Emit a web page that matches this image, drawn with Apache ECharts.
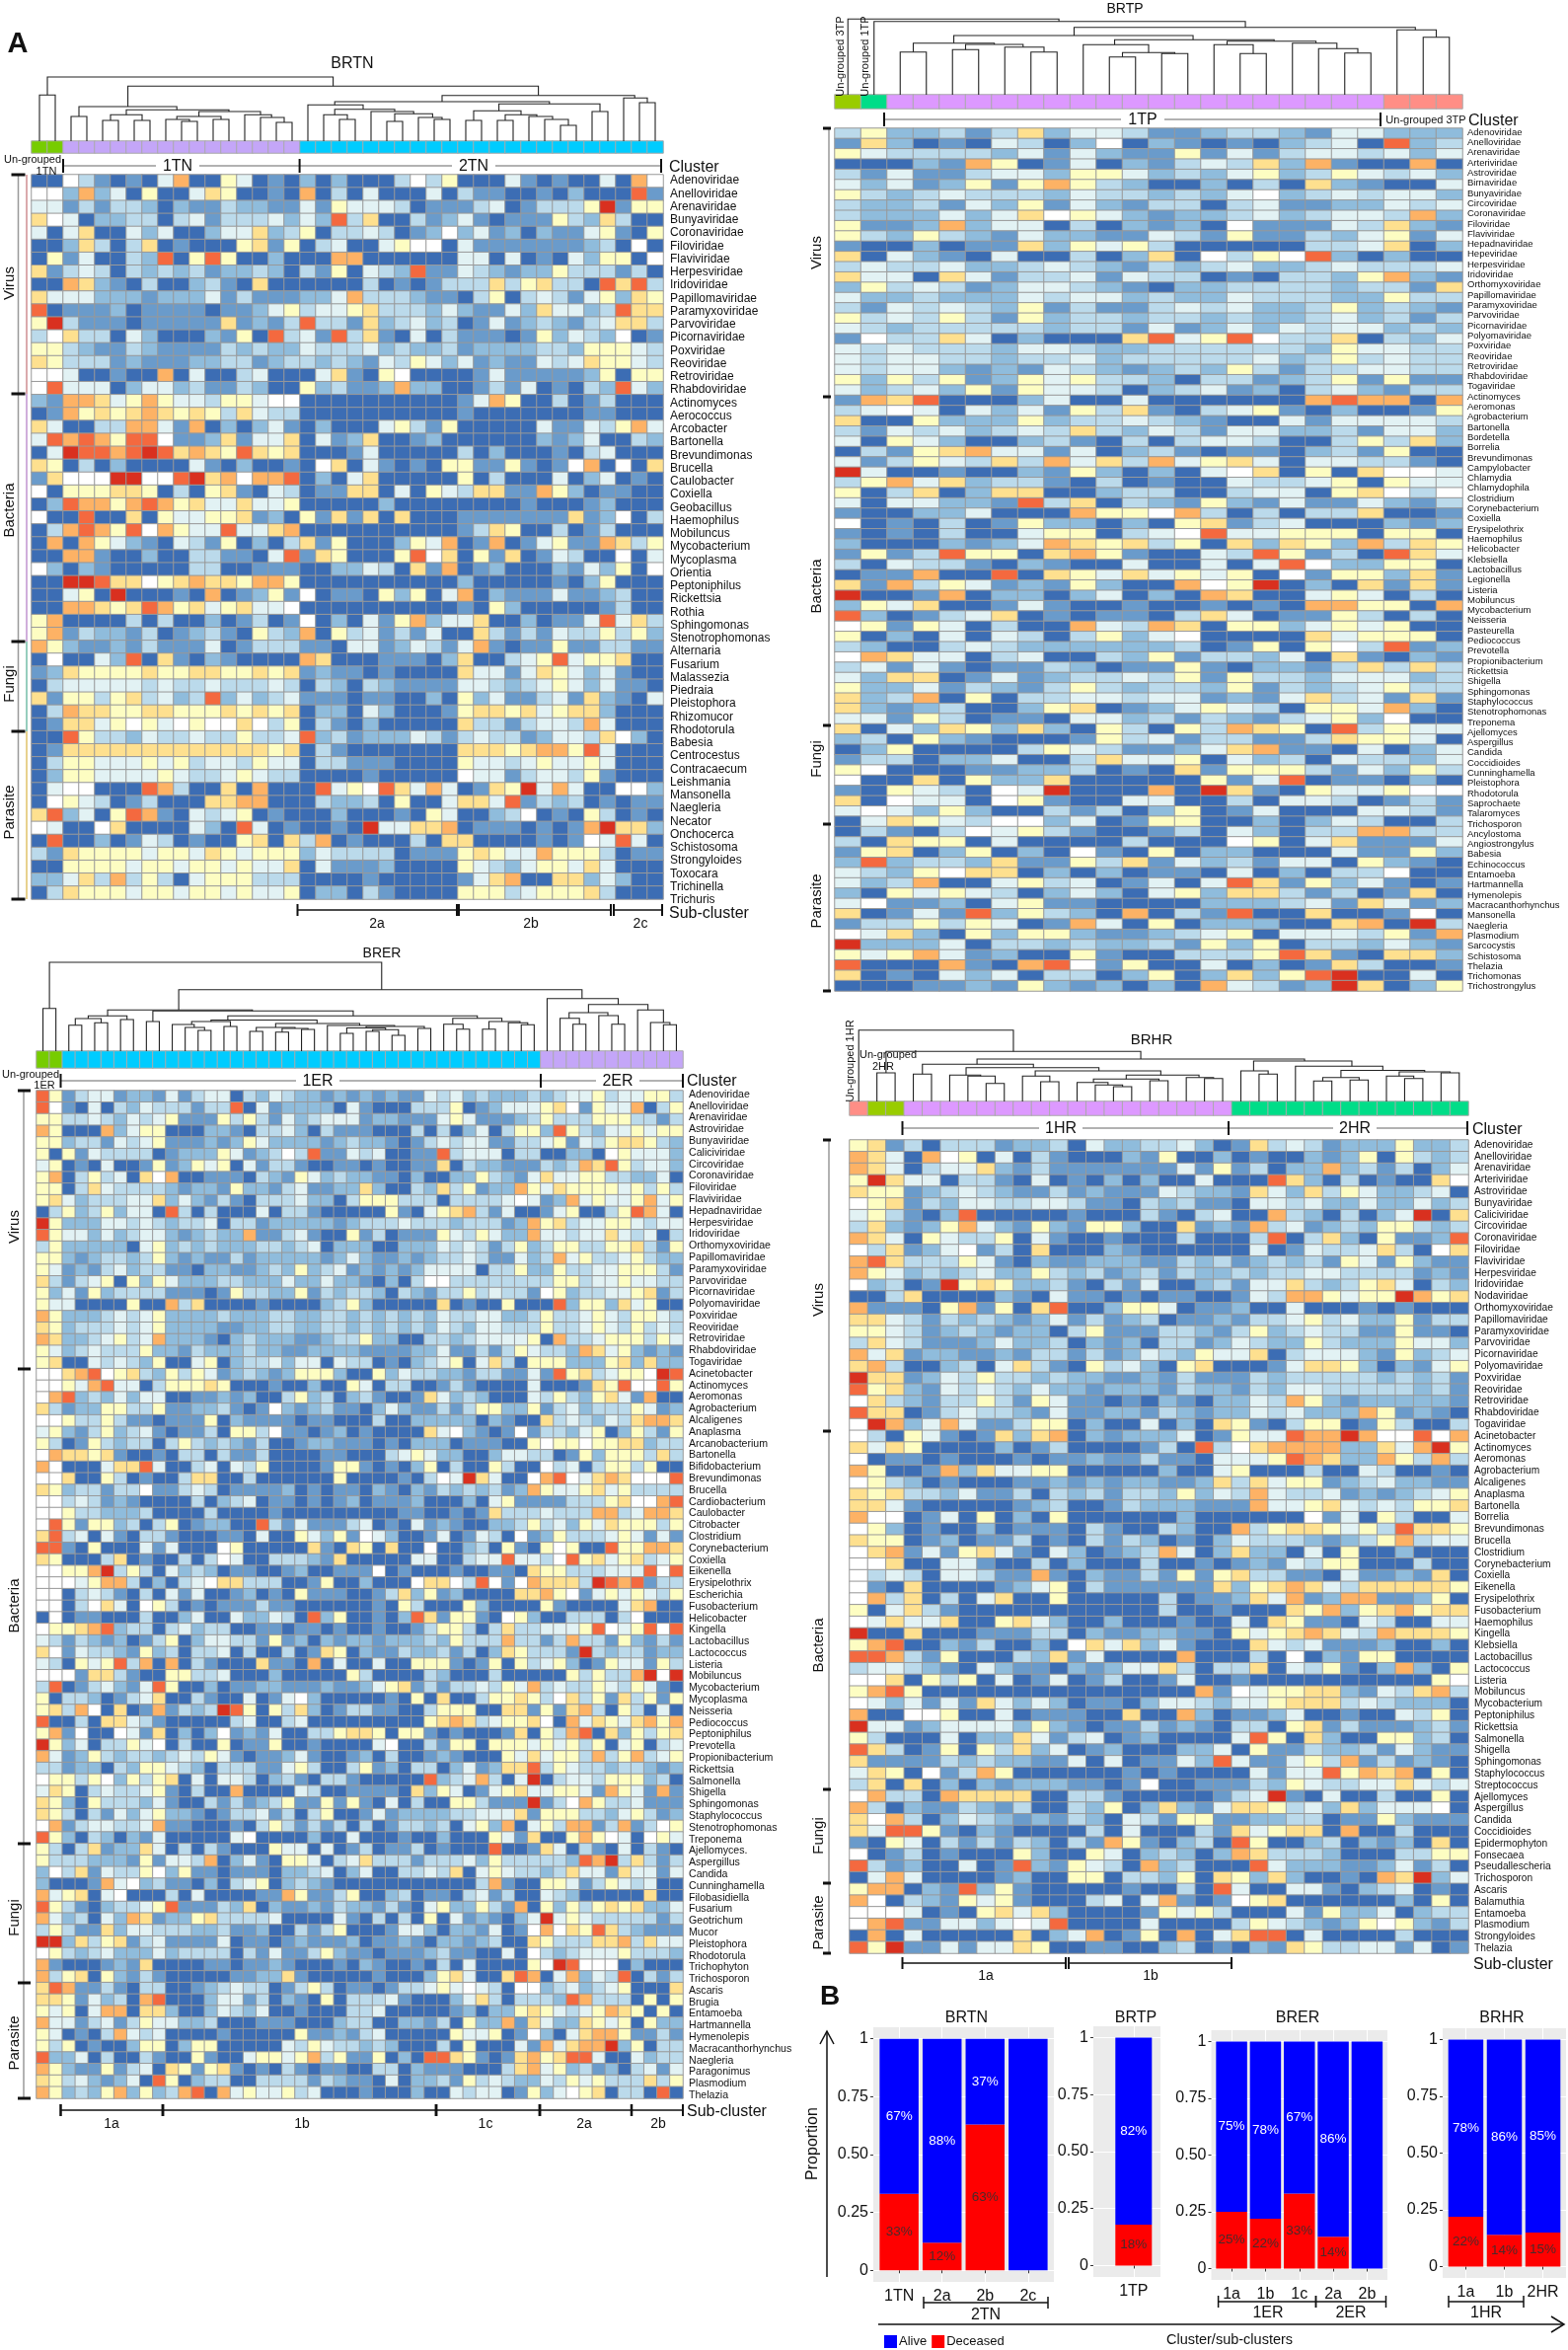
<!DOCTYPE html>
<html>
<head>
<meta charset="utf-8">
<script src="https://cdn.jsdelivr.net/npm/echarts@6/dist/echarts.min.js"></script>
<style>html,body{margin:0;padding:0;background:#fff}#main{width:1589px;height:2381px}</style>
</head>
<body>
<div id="main"></div>
<script>
// heat levels: one hex digit per cell, 0 = dark blue ... 5 = white ... a = red. spaces only help counting
var brtnLabels = ['Adenoviridae','Anelloviridae','Arenaviridae','Bunyaviridae','Coronaviridae','Filoviridae','Flaviviridae','Herpesviridae','Iridoviridae','Papillomaviridae','Paramyxoviridae','Parvoviridae','Picornaviridae','Poxviridae','Reoviridae','Retroviridae','Rhabdoviridae','Actinomyces','Aerococcus','Arcobacter','Bartonella','Brevundimonas','Brucella','Caulobacter','Coxiella','Geobacillus','Haemophilus','Mobiluncus','Mycobacterium','Mycoplasma','Orientia','Peptoniphilus','Rickettsia','Rothia','Sphingomonas','Stenotrophomonas','Alternaria','Fusarium','Malassezia','Piedraia','Pleistophora','Rhizomucor','Rhodotorula','Babesia','Centrocestus','Contracaecum','Leishmania','Mansonella','Naegleria','Necator','Onchocerca','Schistosoma','Strongyloides','Toxocara','Trichinella','Trichuris'];
var brtnRows = [
'00 531010480064010 20200035360004101004085',
'55 282406004760010 80304000403110010200091',
'44 131332021132211 41644430111340133 36a166',
'75 402233034133342 42937003124101116327300',
'40 470042400244723 60334301252412021146106',
'00 273037010006716 03400465504111111123050',
'06 140032906960020 0088000000 4404010426605',
'71 343032323122320 31604329114321226333130',
'00 872103002310700 00003010133373673309793',
'74 442221222413111 22483332110360343146276',
'90 111201111011246 34467333242114274423977',
'6a 311101111171213 93317234230141232134773',
'35 733042000216093 41937104031110162432501',
'66 321132111132322 43334232231222233266643',
'76 333121112233123 32321436424121143476643',
'55 400100804003400 04710650000141111126066',
'59 444024423113200 62311282200131401032942',
'21 887468644366455 0000000000 1486003013000',
'01 867678767637433 0000000000 1000000011000',
'74 003388418020241 02000463160000041143684',
'49 898699511271447 04127001200000021240032',
'04 a9989a978769767 00014000003020001034000',
'76 030200004102001 05704101066116101580507',
'17 555aa559a785889 02047000006030004024010',
'50 666776030671043 01177040643771186201100',
'02 988689867447446 00000200000000100012000',
'50 090070644667120 61717070001111111712503',
'03 898695864494478 00000000001376003013000',
'08 086421043160203 71600026480180146118736',
'00 881002003311049 17600069570617014300504',
'52 021000003300111 00224307180120002142605',
'00 aa9775678776886 00000000002000001026000',
'00 460a00010801261 50110626048021114112300',
'00 887679867467445 00000000001062000001300',
'68 000030300201301 50204168244700201149473',
'68 132213012310632 80634131400731314336362',
'86 211213111401333 11044124314810116113311',
'05 004290710210000 87000111027003469466700',
'12 766667667766767 12110100007441476424100',
'03 444443433433343 03203211114432346424110',
'71 663673423924234 11101100206241134172104',
'03 877667766676767 02204200016776746772000',
'01 774656456557536 03102000007331344384000',
'00 963324334336334 92312224313433124437520',
'01 777777777777767 03100000007776788694000',
'03 664446463443644 03311100006443464464000',
'02 664444643346433 00001000005441344361000',
'04 550009830070800 09465974840176a48400552',
'05 643013000778800 03223060047749132301011',
'79 240698104346010 00200010640023501063010',
'54 005700004209401 0010a44778011101018a772',
'09 002014301006707 38010003077000010154940',
'31 766664664764666 24333301116764486663011',
'00 666646646646447 04111200006432466474000',
'22 473836304666333 00001000001478007724200',
'03 766646646646446 02203100006663466673000'
];
var brtpLabels = ['Adenoviridae','Anelloviridae','Arenaviridae','Arteriviridae','Astroviridae','Birnaviridae','Bunyaviridae','Circoviridae','Coronaviridae','Filoviridae','Flaviviridae','Hepadnaviridae','Hepeviridae','Herpesviridae','Iridoviridae','Orthomyxoviridae','Papillomaviridae','Paramyxoviridae','Parvoviridae','Picornaviridae','Polyomaviridae','Poxviridae','Reoviridae','Retroviridae','Rhabdoviridae','Togaviridae','Actinomyces','Aeromonas','Agrobacterium','Bartonella','Bordetella','Borrelia','Brevundimonas','Campylobacter','Chlamydia','Chlamydophila','Clostridium','Corynebacterium','Coxiella','Erysipelothrix','Haemophilus','Helicobacter','Klebsiella','Lactobacillus','Legionella','Listeria','Mobiluncus','Mycobacterium','Neisseria','Pasteurella','Pediococcus','Prevotella','Propionibacterium','Rickettsia','Shigella','Sphingomonas','Staphylococcus','Stenotrophomonas','Treponema','Ajellomyces','Aspergillus','Candida','Coccidioides','Cunninghamella','Pleistophora','Rhodotorula','Saprochaete','Talaromyces','Trichosporon','Ancylostoma','Angiostrongylus','Babesia','Echinococcus','Entamoeba','Hartmannella','Hymenolepis','Macracanthorhynchus','Mansonella','Naegleria','Plasmodium','Sarcocystis','Schistosoma','Thelazia','Trichomonas','Trichostrongylus'];
var brtpRows = [
'36223 13724 43112 33214 4222','17201 04302 50210 10234 0923','64333 32414 21161 41344 3424','00021 86014 02134 37281 0080','31411 34426 64232 46236 4342','42412 61686 32002 03072 1004','63234 33324 33232 45234 3442','32231 42614 21330 34112 2434','32224 24756 42122 34234 4382','61128 24403 02120 51114 3721',
'63263 21422 11431 61132 4614','10020 11726 46300 00033 4702','70421 04003 02705 36592 0200','34334 22343 21323 42234 3334','74407 41334 14330 10332 6821','26343 12443 21022 33332 3317','42232 22434 42322 43332 2633','31434 32613 11343 42236 2321','63436 31623 32332 32234 2313','43233 33323 31412 42434 4232',
'15337 40200 07946 95337 0324','43433 32443 22333 33326 4433','43443 32334 23333 34236 3433','43442 12143 21232 63133 4433','62636 12646 33203 31236 1611','42342 61644 30234 12034 2133',
'18790 00240 04000 00089 8808','34540 42416 37103 46102 0016','70062 22623 34321 00414 4443','31434 23437 32431 44223 1442','40642 00231 03034 43003 6372','03167 84414 02310 11023 1600','41364 37384 73846 74044 3310','a4001 00216 20204 57060 7554','36847 23310 30100 43346 0644','60370 27700 23300 34406 7535',
'40442 21937 03216 21411 4213','10022 40008 66583 03033 7001','50103 01622 02067 13400 0212','10103 00466 03459 44666 0660','20002 12487 67360 72762 8376','16139 66078 61004 39613 0974','30433 10210 04004 04952 2660','01180 09076 47464 60516 6271','71836 41216 20085 6a020 7171','a0018 02202 40208 70046 4030',
'26470 01410 01001 01088 6608','92013 47010 11037 40116 3030','56164 03008 43870 66246 4600','60204 04303 62450 00074 6660','32003 43222 22230 16065 3912','58744 03400 32613 32407 1021','34141 01132 01161 02213 7373','42770 14123 34361 63324 4423','62241 32136 32332 61323 4633','72380 60334 43441 21473 4171',
'72123 00267 01246 43066 4820','44163 01104 42313 21346 2500','70427 62720 63063 87609 3644','23062 10001 63413 31137 6640','02600 00364 31124 78110 4024','13302 24003 74460 42304 3324','65000 11223 01071 66631 4263','50070 62270 00006 14901 1020','10643 054a0 0080a 71064 4655','70544 05610 04400 30443 0131',
'45426 20031 30260 14000 4431','04764 35524 01660 02024 3003','03103 54631 00130 42033 8833','30766 04000 03000 56047 1114','16702 60205 10602 20004 1162','29233 27116 37142 31440 6210','43265 77020 20110 40203 3500','42380 04634 01404 97162 4101','20646 43024 20462 77313 0170','45112 04611 00002 22341 7412',
'70141 92632 08031 90070 0150','13363 64018 40602 22007 80a3','54720 62662 11234 60444 3618','a2224 03323 22316 26033 2421','64684 12006 10033 36971 0772','90008 10895 16004 02017 3001','70104 24033 02602 7269a 0040','00011 21621 20208 4312a 7026'
];
var brerLabels = ['Adenoviridae','Anelloviridae','Arenaviridae','Astroviridae','Bunyaviridae','Caliciviridae','Circoviridae','Coronaviridae','Filoviridae','Flaviviridae','Hepadnaviridae','Herpesviridae','Iridoviridae','Orthomyxoviridae','Papillomaviridae','Paramyxoviridae','Parvoviridae','Picornaviridae','Polyomaviridae','Poxviridae','Reoviridae','Retroviridae','Rhabdoviridae','Togaviridae','Acinetobacter','Actinomyces','Aeromonas','Agrobacterium','Alcaligenes','Anaplasma','Arcanobacterium','Bartonella','Bifidobacterium','Brevundimonas','Brucella','Cardiobacterium','Caulobacter','Citrobacter','Clostridium','Corynebacterium','Coxiella','Eikenella','Erysipelothrix','Escherichia','Fusobacterium','Helicobacter','Kingella','Lactobacillus','Lactococcus','Listeria','Mobiluncus','Mycobacterium','Mycoplasma','Neisseria','Pediococcus','Peptoniphilus','Prevotella','Propionibacterium','Rickettsia','Salmonella','Shigella','Sphingomonas','Staphylococcus','Stenotrophomonas','Treponema','Ajellomyces.','Aspergillus','Candida','Cunninghamella','Filobasidiella','Fusarium','Geotrichum','Mucor','Pleistophora','Rhodotorula','Trichophyton','Trichosporon','Ascaris','Brugia','Entamoeba','Hartmannella','Hymenolepis','Macracanthorhynchus','Naegleria','Paragonimus','Plasmodium','Thelazia'];
var brerRows = [
'96134 41221 41344 03243 22121 21211 43423 22232 34463 44663','95104 03243 33133 90412 22204 10003 33601 24446 75164 48036','66334 32434 61116 36314 23444 12211 14641 11236 33366 63313','86000 82466 00022 10334 20311 10003 03024 03662 96324 46466','66233 14346 11121 26422 22123 22101 34344 11334 61436 77632','60614 33330 12226 41235 39114 34001 19344 40330 02205 64442','46010 40016 12646 04133 10011 01001 17032 21113 23879 63442','68036 34075 80011 10321 64232 21102 00226 32147 44663 32240','66037 43333 21221 62213 41122 72003 27361 22864 76666 46363','67423 33447 24213 10333 42203 66633 30333 34541 28464 46846',
'03623 62440 93030 00403 31000 00610 46783 14001 46003 69840','a6222 44343 23340 33122 22212 33343 33233 31286 73446 64344','96442 42344 21232 28113 41006 13011 16436 42284 43447 43403','36222 22046 23232 22332 34022 20022 24343 13623 66336 67316','66212 33236 21211 31222 22124 21121 23343 11423 84633 46322','64121 34233 11022 11232 62341 21212 44440 33622 63344 66631','73134 60626 42223 32224 22422 10203 55333 33333 66344 64433','62416 23333 11101 63322 61323 32032 13363 43315 62334 46713','64400 00600 83700 00100 00236 20000 07010 06000 92662 74600','86222 34346 22223 22233 22332 32323 24334 42236 33464 36643',
'76233 34346 22221 12233 22332 32323 24324 43336 33464 36343','87223 46348 22210 23222 11233 62200 33234 44460 83346 66364','64234 33362 21322 23221 12222 11112 24113 13643 32874 62121','67004 34326 00460 23342 44043 30102 34604 73066 62226 72722',
'55789 56732 63641 23212 66620 06243 32213 31141 96734 665a9','55648 94403 66676 00010 02006 40330 01310 00040 00176 95596','58923 24244 00112 12003 62302 31001 74232 00043 63267 41800','73122 66336 11223 10152 12311 02421 13136 62261 34233 36412','55633 63110 11160 21111 01100 03002 22220 21007 34324 37887','46213 62341 01130 66351 10120 10000 74521 01513 32460 26316','63016 32330 36323 21300 12211 10102 22011 10065 66566 77233','58776 71001 03303 11300 00110 00346 42200 24433 01626 66373','85000 47794 00340 43600 00166 10102 60300 63005 34036 63600','55700 63010 03770 03000 00060 00010 354a7 40058 95478 75559',
'76233 13351 13430 11112 01011 02102 13232 31286 44674 63333','55343 12100 00302 34011 01012 01112 00020 46111 13336 75589','55633 22230 00030 00010 00000 00011 00101 73334 33388 34887','59616 62303 60122 00931 41113 40104 12100 22363 42647 66636','79340 41033 10001 10400 64261 54200 14014 30512 63334 64141','99106 00041 40005 60000 07107 60700 50023 06106 56009 66887','76000 37010 03035 40033 32170 00004 40034 49443 59674 67346','55668 a3630 42320 11001 20011 15010 00100 11076 63334 44959','55546 88302 03457 73330 01600 20005 77539 51587 773a9 89133','55034 31030 41400 12010 61110 01372 61200 00778 65146 46436',
'55035 74056 30101 11311 00000 01063 00062 00006 10000 47800','05011 00030 02400 42243 09260 01029 71661 05620 03330 35000','56678 92330 34233 00110 11010 01001 36630 37334 44695 46959','43132 12013 60244 33161 20212 21222 32633 38331 38331 62131','75143 32162 30334 03003 01760 21132 23130 27633 31a32 33122','43064 69380 80310 00711 08040 04006 66101 60634 62016 44163','55517 73100 66334 00020 00006 30000 32000 30000 06363 38a5a','39013 42149 60020 11221 11211 24671 31334 36483 43364 36410','60332 01347 00310 04014 52000 00106 07003 66763 57361 73616','67385 07018 1323a 96063 72013 31100 36660 07716 17830 63040',
'90030 77431 00000 34003 40000 00000 67873 46675 08476 47868','68150 05417 02025 12140 03367 76066 10100 01706 38907 26367','a6240 33645 03006 01160 01000 04500 31660 66646 46360 46034','84126 32332 34364 10112 41001 20300 12100 06474 66383 68346','33122 03266 43203 33114 63003 61203 30241 27793 64332 33212','56636 52636 70404 43023 10331 00000 92348 304a0 34436 66230','47603 43346 10300 80000 43001 11107 26401 46744 66418 64181','76206 33324 10031 31236 11616 10403 00663 111a1 35863 34111','76303 14246 22101 33413 03600 14122 22334 44716 66332 46312','58134 43348 11000 10363 13130 30133 23046 28046 38813 81356',
'96203 20214 00000 45000 02004 00010 02000 64170 06865 40564','63037 12274 03031 00064 40401 30113 01000 90017 40310 40310','63332 22161 44380 24106 64034 73331 33342 63333 3298a 37313','25371 43365 26110 11102 23402 40033 43704 64332 37441 74414','20001 84523 11020 34602 32100 00000 00003 81006 64136 43400','84670 45000 30400 00118 61136 00230 11034 13004 32000 00700','96310 23346 91113 27021 12132 21310 46226 31806 26367 67224','84230 42871 22673 33340 00041 03030 60412 1024a 46433 33313','36311 72443 33223 11200 31360 00144 20221 40158 57697 32111','aa273 67134 11114 01101 21112 01121 02212 30076 33377 83744',
'56323 42224 23333 03141 13621 10111 23110 04053 23444 63332','81000 12170 00011 01121 00010 21001 03040 00065 a9555 02000','83670 62131 00000 11227 10000 01000 26740 07980 48243 90313','79811 31033 00123 43301 36301 10133 46454 30552 34234 60007','77614 23089 00024 41302 10603 33410 00247 30333 29833 30606','64604 88077 20024 32400 10003 34000 00120 22676 43468 76060','84413 41364 42230 00111 00023 30022 13062 28174 22764 60622','64010 38434 00001 00000 61121 34000 00644 60152 04788 61131','63601 00266 02660 00004 36433 23200 03060 00418 4788a 26033','92240 30031 00610 04664 68361 16020 99761 01786 79940 04233',
'86211 61340 76167 10103 10110 03302 11100 03784 62312 03414','76342 12409 60233 00333 31321 10402 23163 43224 36463 33736','86232 68262 38908 46446 34000 10002 00434 40162 45670 33090'
];
var brhrLabels = ['Adenoviridae','Anelloviridae','Arenaviridae','Arteriviridae','Astroviridae','Bunyaviridae','Caliciviridae','Circoviridae','Coronaviridae','Filoviridae','Flaviviridae','Herpesviridae','Iridoviridae','Nodaviridae','Orthomyxoviridae','Papillomaviridae','Paramyxoviridae','Parvoviridae','Picornaviridae','Polyomaviridae','Poxviridae','Reoviridae','Retroviridae','Rhabdoviridae','Togaviridae','Acinetobacter','Actinomyces','Aeromonas','Agrobacterium','Alcaligenes','Anaplasma','Bartonella','Borrelia','Brevundimonas','Brucella','Clostridium','Corynebacterium','Coxiella','Eikenella','Erysipelothrix','Fusobacterium','Haemophilus','Kingella','Klebsiella','Lactobacillus','Lactococcus','Listeria','Mobiluncus','Mycobacterium','Peptoniphilus','Rickettsia','Salmonella','Shigella','Sphingomonas','Staphylococcus','Streptococcus','Ajellomyces','Aspergillus','Candida','Coccidioides','Epidermophyton','Fonsecaea','Pseudallescheria','Trichosporon','Ascaris','Balamuthia','Entamoeba','Plasmodium','Strongyloides','Thelazia'];
var brhrRows = [
'67130 33312 23042 23342 01734 31222 6223','87408 56040 31000 21600 20100 21260 6323','87403 44721 31111 11141 61302 28231 3024','6a744 03310 40102 02004 00097 20301 0075','76612 34321 13121 11432 21742 73642 2340','56713 24433 44311 03231 10443 42242 2423','46310 29000 00100 03103 40083 20302 4a07','37212 68421 62166 20071 21834 12326 6323','87406 43360 41001 00030 00390 37206 1129','53712 45130 70002 10000 00401 43347 3057',
'89733 36410 21122 21132 31232 31641 6211','86423 23422 63231 23132 23233 44333 3121','52301 a6762 23103 14002 31447 32367 4032','00370 00021 04110 10110 01438 86466 a867','81110 68160 79002 66401 12004 00010 1000','77431 32321 24131 23011 21334 63422 6133','66431 23212 20361 11332 13623 43311 6110','37431 11242 23021 20331 24322 63222 6442','84712 21121 33131 24326 44703 44421 6234','78300 23047 31063 42067 00014 77620 2146',
'a7712 43633 23221 12131 11323 33332 3231','96721 43432 42212 22132 21324 43333 3231','57321 33631 64110 10210 22438 62122 2221','97701 34332 14112 21321 22434 22286 1210','5a824 84113 66020 04020 76103 66016 3003',
'53064 10172 78021 22240 16449 88a85 5958','74760 00020 13000 01309 35788 88227 48a6','50110 10001 01121 13110 44469 87228 6383','86001 82744 66000 00200 46000 30043 0010','56320 10001 12121 22112 73746 61234 2211','76733 24113 03231 33262 43843 34121 2346','77410 00001 23001 32221 11844 67434 3667','85501 40602 06000 00020 00000 51406 3004','56201 00201 11031 00320 08367 76463 9776','76601 20113 01031 32010 24333 21236 8344',
'57814 16741 04201 23840 27220 40600 2000','55700 44100 30200 03001 01214 36600 0300','53430 44311 81021 13161 67331 10411 2170','51070 00012 46031 11111 72678 74377 7776','58370 30470 06000 00301 12748 12881 1260','60473 10000 00000 00300 10007 68267 8677','54744 70067 42002 00010 04076 11043 0044','a0070 00111 33021 12211 06467 87438 7776','68900 21300 20574 72410 00743 41112 0020','99831 60003 27140 00080 00305 02166 0000',
'34432 10421 10212 44730 33704 36102 8206','55706 36040 14013 00140 01000 00000 0065','68960 00000 00000 00008 15466 77214 3783','54241 41742 42011 02443 24467 77343 2220','80055 60040 11100 70082 01124 00100 4360','a4412 44442 62101 13121 03306 71311 1231','63000 40227 41340 12000 04960 72006 6230','97301 60637 24012 00022 40611 32231 4211','71111 32322 11404 01142 94114 63813 1210','47605 13860 00000 10100 00414 49687 8060','37070 20212 22110 15001 11326 43344 7434',
'58330 87777 00331 00000 134a1 04003 0060','83021 13213 00326 02721 47763 42724 4450','75830 24321 21320 43166 11223 30116 2111','74996 10210 00030 40003 17467 70800 3000','10640 31313 20318 61023 09600 23021 2070','50130 10006 20064 02320 28733 32000 3366','93120 04019 21643 08230 00942 22112 4130','04840 00012 00660 33260 76272 00108 7a24',
'68802 19261 00000 10030 94004 41023 4010','85032 16461 00034 04810 15670 00000 2060','55540 10674 72000 01646 30004 16224 0233','58911 44245 49000 04000 03643 21265 6213','08040 00007 02480 16080 47990 40000 3000','96a11 41447 60011 00230 10217 63344 1401'
];
// cluster strips: [cluster, number of columns]
var brtnStrip = [['ugA',2],['pale',15],['cyan',23]];
var brtpStrip = [['lime',1],['mint',1],['pink',19],['salmon',3]];
var brerStrip = [['ugA',2],['cyan',37],['pale',11]];
var brhrStrip = [['salmon',1],['lime',2],['pink',18],['mint',13]];
// dendrograms: [left x, left bottom, right x, right bottom, top], x in columns, heights above the strip
var brtnTree = [[.5,0,1.5,0,46.7],[2.5,0,3.5,0,25],[4.5,0,5.5,0,21],[6.5,0,7.5,0,21],[5,21,7,21,26.7],[9.5,0,10.5,0,20],[8.5,0,10,20,22],[11.5,0,12.5,0,22],[9.2,22,12,22,25],[15.5,0,16.5,0,19],[14.5,0,16,19,24],[13.5,0,15.2,24,26.7],[10.6,25,14.5,26.7,30],[6,26.7,12.5,30,31.7],[3,25,9.2,31.7,35],[19.5,0,20.5,0,22],[18.5,0,20,22,26.7],[22.5,0,23.5,0,20],[25.5,0,26.5,0,22],[24.5,0,26,22,24],[23,20,25.4,24,27.7],[21.5,0,24.2,27.7,30],[19.2,26.7,23,30,32.3],[17.5,0,21,32.3,36.7],[27.5,0,28.5,0,21],[29.5,0,30.5,0,21],[33.5,0,34.5,0,16],[32.5,0,34,16,22],[31.5,0,33,22,25],[30,21,32,25,26.7],[28,21,31,26.7,30.7],[35.5,0,36.5,0,30],[29.6,30.7,36,30,37.7],[19.2,36.7,32.8,37.7,40],[38.5,0,39.5,0,39],[37.5,0,39,39,43.7],[26,40,38.2,43.7,46.3],[6.1,35,32.1,46.3,55.7],[1,46.7,19.1,55.7,65]];
var brtpTree = [[22.5,0,23.5,0,58.3],[21.5,0,23,58.3,65.7],[2.5,0,3.5,0,43.3],[4.5,0,5.5,0,45.7],[7.5,0,8.5,0,43.3],[6.5,0,8,43.3,48.3],[5,45.7,7.2,48.3,51],[3,43.3,6.1,51,52.3],[10.5,0,11.5,0,38.3],[12.5,0,13.5,0,41.7],[11,38.3,13,41.7,42.7],[9.5,0,12,42.7,50.7],[15.5,0,16.5,0,41.7],[14.5,0,16,41.7,50.7],[19.5,0,20.5,0,42.3],[18.5,0,20,42.3,46.7],[17.5,0,19.2,46.7,52.3],[15,50.7,18.4,52.3,54.3],[10.7,50.7,16.8,54.3,55.7],[4.55,52.3,13.7,55.7,60],[9.15,60,22.2,65.7,68.3],[1.5,0,15.7,68.3,74.3],[.5,0,8.57,74.3,76.7]];
var brerTree = [[.5,0,1.5,0,43.3],[2.5,0,3.5,0,26.3],[4.5,0,5.5,0,28.7],[3,26.3,5,28.7,33],[6.5,0,7.5,0,32],[4,33,7,32,35.7],[8.5,0,9.5,0,30],[12.5,0,13.5,0,21],[11.5,0,13,21,24],[10.5,0,12.2,24,27],[14.5,0,15.5,0,25],[12,27,15,25,30],[16.5,0,17.5,0,20],[18.5,0,19.5,0,19.3],[20.5,0,21.5,0,22],[19,19.3,21,22,23],[17,20,20,23,24],[23.5,0,24.5,0,18],[27.5,0,28.5,0,16],[25.5,0,26.5,0,20],[26,20,28,16,21.7],[24,18,27,21.7,23.5],[29.5,0,30.5,0,23],[25.5,23.5,30,23,25],[22.5,0,27.7,25,26],[18.5,24,25,26,28],[13.5,30,21.7,28,31.5],[32.5,0,33.5,0,22.3],[31.5,0,33,22.3,27.3],[34.5,0,35.5,0,22.3],[37.5,0,38.5,0,26.7],[36.5,0,38,26.7,28.7],[35,22.3,37.4,28.7,30],[32.2,27.3,36,30,33.3],[14.8,31.5,34.1,33.3,35.7],[9,30,24.5,35.7,40.7],[5.5,35.7,16.7,40.7,41.7],[41.5,0,42.5,0,27.3],[40.5,0,42,27.3,33.3],[44.5,0,45.5,0,27.3],[43.5,0,45,27.3,36],[41.2,33.3,44.2,36,39],[48.5,0,49.5,0,26.7],[47.5,0,49,26.7,29],[46.5,0,48.5,29,41.7],[42.7,39,47.3,41.7,47.3],[39.5,0,45,47.3,53.3],[11,41.7,42.2,53.3,62.3],[1,43.3,26.7,62.3,90]];
var brhrTree = [[1.5,0,2.5,0,29],[3.5,0,4.5,0,27.7],[7.5,0,8.5,0,18.3],[6.5,0,8,18.3,25.7],[5.5,0,7.2,25.7,26.7],[10.5,0,11.5,0,20],[9.5,0,11,20,25.7],[14.5,0,15.5,0,15],[13.5,0,15,15,16.7],[12.5,0,14.2,16.7,19.3],[16.5,0,17.5,0,21],[13.4,19.3,17,21,22.7],[19.5,0,20.5,0,23.3],[18.5,0,20,23.3,24.3],[15.2,22.7,19.2,24.3,26.7],[10.2,25.7,17.1,26.7,31],[6.4,26.7,13.7,31,34.3],[4,27.7,10.1,34.3,37.7],[22.5,0,23.5,0,27.7],[21.5,0,23,27.7,31],[25.5,0,26.5,0,20.7],[27.5,0,28.5,0,21.7],[26,20.7,28,21.7,24.3],[30.5,0,31.5,0,23.3],[29.5,0,31,23.3,25.7],[32.5,0,33.5,0,29],[30.2,25.7,33,29,30],[27,24.3,31.6,30,31.5],[24.5,0,29.3,31.5,35.7],[22.2,31,27.6,35.7,41],[7,37.7,25,41,43],[2,29,16,43,50.7],[.5,0,9,50.7,72.3]];
// survival panel
var brtnCats = ['1TN','2a','2b','2c'];
var brtnDeceased = [0.33,0.12,0.63,0];
var brtnAlive = [0.67,0.88,0.37,1];
var brtpCats = ['1TP'];
var brtpDeceased = [0.18];
var brtpAlive = [0.82];
var brerCats = ['1a','1b','1c','2a','2b'];
var brerDeceased = [0.25,0.22,0.33,0.14,0];
var brerAlive = [0.75,0.78,0.67,0.86,1];
var brhrCats = ['1a','1b','2HR'];
var brhrDeceased = [0.22,0.14,0.15];
var brhrAlive = [0.78,0.86,0.85];
var yTicks = [0,0.25,0.5,0.75,1];

var FONT = 'Liberation Sans';
var palette = ['#3c6db4','#6a9bcb','#8fbcdc','#bbdaeb','#e2f2f4','#ffffff','#fdfdc2','#fee08f','#fdb265','#f4693f','#d9301f'];
var stripColors = {ugA:'#77cc00',pale:'#c4a6f8',cyan:'#00ccff',lime:'#99cc00',mint:'#00dd88',pink:'#dd99ff',salmon:'#ff8e86'};

var grids = [], xAxes = [], yAxes = [], series = [], gfx = [], heatIdx = [];

function txt(x, y, s, size, o) {
	o = o || {};
	gfx.push({type:'text', x:x, y:y, rotation:o.rot || 0, silent:true, z:50, style:{text:s, fontSize:size, fontFamily:FONT, fontWeight:o.bold ? 'bold' : 'normal', fill:o.color || '#111', textAlign:o.align || 'center', textVerticalAlign:'middle'}});
}
function ln(x1, y1, x2, y2, w, c) {
	gfx.push({type:'line', silent:true, z:50, shape:{x1:x1, y1:y1, x2:x2, y2:y2}, style:{stroke:c || '#111', lineWidth:w || 1}});
}
function addGrid(x, y, w, h, bg) {
	grids.push({left:x, top:y, width:w, height:h, show:!!bg, backgroundColor:bg || 'transparent', borderWidth:0});
	return grids.length - 1;
}
function catAxes(g, n, m) {
	var xs = [], ys = [], i;
	for (i = 0; i < n; i++) xs.push(i);
	for (i = 0; i < m; i++) ys.push(i);
	xAxes.push({gridIndex:g, type:'category', data:xs, show:false});
	yAxes.push({gridIndex:g, type:'category', data:ys, show:false, inverse:true});
}
function heatPanel(rows, labels, strip, tree, p) {
	var n = p.cols, m = rows.length, data = [];
	rows.forEach(function(row, r) {
		row.replace(/ /g, '').slice(0, n).split('').forEach(function(c, i) {
			data.push([i, r, parseInt(c, 16)]);
		});
	});
	var g = addGrid(p.x, p.y, p.w, p.h, '#8fbcdc');
	catAxes(g, n, m);
	heatIdx.push(series.length);
	series.push({type:'heatmap', xAxisIndex:xAxes.length - 1, yAxisIndex:yAxes.length - 1, data:data, progressive:0, animation:false, itemStyle:{borderColor:'#999', borderWidth:1}});
	// cluster strip
	var sd = [], c = 0;
	strip.forEach(function(s) {
		for (var k = 0; k < s[1]; k++) {
			sd.push({value:[c, 0, 0], itemStyle:{color:stripColors[s[0]]}});
			c++;
		}
	});
	g = addGrid(p.x, p.stripY, p.w, p.stripH);
	catAxes(g, n, 1);
	series.push({type:'heatmap', xAxisIndex:xAxes.length - 1, yAxisIndex:yAxes.length - 1, data:sd, animation:false, itemStyle:{borderColor:'#aaa', borderWidth:1}});
	// dendrogram
	g = addGrid(p.x, p.stripY - p.treeH, p.w, p.treeH);
	xAxes.push({gridIndex:g, type:'value', min:0, max:n, show:false});
	yAxes.push({gridIndex:g, type:'value', min:0, max:p.treeH, show:false});
	series.push({type:'custom', xAxisIndex:xAxes.length - 1, yAxisIndex:yAxes.length - 1, data:tree, animation:false, silent:true, encode:{x:[0,2], y:[1,3,4]},
		renderItem:function(params, api) {
			var pts = [
				api.coord([api.value(0), api.value(1)]),
				api.coord([api.value(0), api.value(4)]),
				api.coord([api.value(2), api.value(4)]),
				api.coord([api.value(2), api.value(3)])
			];
			return {type:'polyline', shape:{points:pts}, style:{stroke:'#222', fill:null, lineWidth:1.1}};
		}});
	// row labels sit on their own axis, the picture spaces them a bit differently from the cells
	g = addGrid(p.labelX - 1, p.labelTop, 1, p.labelH);
	xAxes.push({gridIndex:g, type:'value', show:false});
	yAxes.push({gridIndex:g, type:'category', inverse:true, position:'right', data:labels, axisLine:{show:false}, axisTick:{show:false}, axisLabel:{interval:0, margin:1, fontSize:p.labelSize, fontFamily:FONT, color:'#111'}});
	// title, clusters and side groups
	txt(p.titleX, p.titleY, p.title, p.titleSize);
	ln(p.sideX, p.y, p.sideX, p.y + p.h, 1.5, '#999');
	p.sideTicks.forEach(function(t) { ln(p.sideX - p.tickL, t, p.sideX + p.tickR, t, 3, '#111'); });
	p.groups.forEach(function(gr) { txt(p.groupX, gr[1], gr[0], 15, {rot:Math.PI / 2}); });
}
function bracket(y, xs, color, tickW) {
	ln(xs[0], y, xs[xs.length - 1], y, 1.5, color);
	xs.forEach(function(x) { ln(x, y - 6, x, y + 6, tickW, '#111'); });
}
// horizontal cluster rule that breaks around its labels
function clusterRule(y, xs, labels) {
	labels.forEach(function(l, i) {
		ln(xs[i], y, l[1] - 22, y, 1.5, '#999');
		ln(l[1] + 22, y, xs[i + 1], y, 1.5, '#999');
		txt(l[1], y + 1, l[0], 16);
	});
	xs.forEach(function(x) { ln(x, y - 7, x, y + 7, 2, '#111'); });
}

heatPanel(brtnRows, brtnLabels, brtnStrip, brtnTree, {
	cols:40, x:32, y:177, w:640, h:734, stripY:143, stripH:12, treeH:66,
	labelX:678, labelTop:176.4, labelH:742, labelSize:12,
	title:'BRTN', titleX:357, titleY:65, titleSize:16,
	sideX:18.5, tickL:7, tickR:7, sideTicks:[177,399,650,741,911], groupX:10,
	groups:[['Virus',287],['Bacteria',517],['Fungi',693],['Parasite',823]]
});
heatPanel(brtpRows, brtpLabels, brtpStrip, brtpTree, {
	cols:24, x:846, y:130, w:636, h:874, stripY:96, stripH:14, treeH:77,
	labelX:1486, labelTop:129, labelH:876, labelSize:9.5,
	title:'BRTP', titleX:1140, titleY:9, titleSize:14,
	sideX:840, tickL:6, tickR:2, sideTicks:[130,402,735,835,1004], groupX:828,
	groups:[['Virus',256],['Bacteria',594],['Fungi',769],['Parasite',913]]
});
heatPanel(brerRows, brerLabels, brerStrip, brerTree, {
	cols:50, x:37, y:1105, w:655, h:1021, stripY:1065, stripH:17, treeH:91,
	labelX:697, labelTop:1103, labelH:1026, labelSize:10.6,
	title:'BRER', titleX:387, titleY:966, titleSize:14,
	sideX:24, tickL:6, tickR:7, sideTicks:[1105,1387,1868,2009,2126], groupX:15,
	groups:[['Virus',1243],['Bacteria',1627],['Fungi',1943],['Parasite',2070]]
});
heatPanel(brhrRows, brhrLabels, brhrStrip, brhrTree, {
	cols:34, x:861, y:1155, w:627, h:824, stripY:1116, stripH:14, treeH:73,
	labelX:1493, labelTop:1154, labelH:826, labelSize:10.2,
	title:'BRHR', titleX:1167, titleY:1054, titleSize:15,
	sideX:840, tickL:6, tickR:2, sideTicks:[1155,1450,1813,1908,1979], groupX:830,
	groups:[['Virus',1317],['Bacteria',1667],['Fungi',1860],['Parasite',1948]]
});

// thin coloured side rules on the first panel
ln(27, 177, 27, 399, 1, '#b5545a');
ln(27, 399, 27, 650, 1, '#a15fb8');
ln(27, 650, 27, 741, 1, '#2f9c7c');
ln(27, 741, 27, 911, 1, '#d0a41e');

clusterRule(168, [64, 303.6, 670], [['1TN',180],['2TN',480]]);
txt(33, 162, 'Un-grouped', 11);
txt(47, 174, '1TN', 11);
txt(678, 170, 'Cluster', 16, {align:'left'});
bracket(922, [301.5, 463], '#111', 2);
bracket(922, [465, 619], '#111', 2);
bracket(922, [622, 671], '#111', 2);
txt(382, 936, '2a', 14);
txt(538, 936, '2b', 14);
txt(649, 936, '2c', 14);
txt(678, 926, 'Sub-cluster', 16, {align:'left'});

clusterRule(121, [896, 1399], [['1TP',1158]]);
txt(1445, 122, 'Un-grouped 3TP', 11);
txt(1488, 123, 'Cluster', 16, {align:'left'});
txt(852, 57, 'Un-grouped 3TP', 11, {rot:Math.PI / 2});
txt(877, 57, 'Un-grouped 1TP', 11, {rot:Math.PI / 2});

clusterRule(1095, [61.5, 548, 692], [['1ER',322],['2ER',626]]);
txt(31, 1089, 'Un-grouped', 11);
txt(45, 1100, '1ER', 11);
txt(696, 1096, 'Cluster', 16, {align:'left'});
bracket(2138, [61.5, 165], '#111', 2.5);
bracket(2138, [165, 442], '#111', 2.5);
bracket(2138, [442, 547], '#111', 2.5);
bracket(2138, [547, 640], '#111', 2.5);
bracket(2138, [640, 692], '#111', 2);
txt(113, 2152, '1a', 14);
txt(306, 2152, '1b', 14);
txt(492, 2152, '1c', 14);
txt(592, 2152, '2a', 14);
txt(667, 2152, '2b', 14);
txt(696, 2140, 'Sub-cluster', 16, {align:'left'});

clusterRule(1143, [914.5, 1245, 1487], [['1HR',1075],['2HR',1373]]);
txt(862, 1075, 'Un-grouped 1HR', 11, {rot:Math.PI / 2});
txt(900, 1069, 'Un-grouped', 11);
txt(895, 1081, '2HR', 11);
txt(1492, 1145, 'Cluster', 16, {align:'left'});
bracket(1989, [914.5, 1080], '#111', 2);
bracket(1989, [1083, 1248], '#111', 2);
txt(999, 2002, '1a', 14);
txt(1166, 2002, '1b', 14);
txt(1493, 1991, 'Sub-cluster', 16, {align:'left'});

txt(18, 45, 'A', 29, {bold:true});
txt(841, 2023, 'B', 28, {bold:true});

// panel B
function barPanel(name, cats, deceased, alive, p) {
	var g = addGrid(p.x, p.y, p.w, p.h, '#ebebeb');
	var ticks = cats.map(function(c, i) { return i + 1; });
	xAxes.push({gridIndex:g, type:'value', min:0.4, max:p.xMax,
		axisLine:{show:false}, splitLine:{show:true, lineStyle:{color:'#fff', width:1}},
		axisTick:{customValues:ticks, length:3, lineStyle:{color:'#333'}},
		axisLabel:{customValues:ticks, fontSize:16, fontFamily:FONT, color:'#111', margin:7, formatter:function(v) { return cats[v - 1]; }}});
	yAxes.push({gridIndex:g, type:'value', min:-0.05, max:1.05,
		axisLine:{show:false}, splitLine:{show:true, lineStyle:{color:'#fff', width:1}},
		axisTick:{customValues:yTicks, length:3, lineStyle:{color:'#333'}},
		axisLabel:{customValues:yTicks, fontSize:16, fontFamily:FONT, color:'#111', margin:5, formatter:function(v) { return v == 0 || v == 1 ? String(v) : v.toFixed(2); }}});
	function pct(o) {
		var v = o.value[0];
		return v > 0 && v < 1 ? Math.round(v * 100) + '%' : '';
	}
	// value first, the stack runs on the first numeric column
	function pairs(a) { return a.map(function(v, i) { return [v, i + 1]; }); }
	series.push({name:'Deceased', type:'bar', stack:name, xAxisIndex:xAxes.length - 1, yAxisIndex:yAxes.length - 1, barWidth:p.barW, encode:{x:1, y:0}, data:pairs(deceased), itemStyle:{color:'#ff0000'}, animation:false,
		label:{show:true, position:'inside', formatter:pct, color:'#4a2a2a', fontSize:13.5, fontFamily:FONT}});
	series.push({name:'Alive', type:'bar', stack:name, xAxisIndex:xAxes.length - 1, yAxisIndex:yAxes.length - 1, barWidth:p.barW, encode:{x:1, y:0}, data:pairs(alive), itemStyle:{color:'#0000ff'}, animation:false,
		label:{show:true, position:'inside', formatter:pct, color:'#fff', fontSize:13.5, fontFamily:FONT}});
	txt(p.titleX, 2045, name, 16);
}
barPanel('BRTN', brtnCats, brtnDeceased, brtnAlive, {x:885, y:2054, w:183, h:258, xMax:4.6, barW:39.5, titleX:979.5});
barPanel('BRTP', brtpCats, brtpDeceased, brtpAlive, {x:1108, y:2053, w:68, h:254, xMax:1.4, barW:37, titleX:1151});
barPanel('BRER', brerCats, brerDeceased, brerAlive, {x:1227.5, y:2057, w:178.5, h:253, xMax:5.6, barW:31.5, titleX:1315});
barPanel('BRHR', brhrCats, brhrDeceased, brhrAlive, {x:1462, y:2055, w:125, h:253, xMax:3.6, barW:35.5, titleX:1522});

txt(824, 2172, 'Proportion', 16, {rot:Math.PI / 2});
ln(838, 2307, 838, 2058, 1.5, '#111');
gfx.push({type:'polyline', silent:true, z:50, shape:{points:[[831,2071],[838,2058],[845,2071]]}, style:{stroke:'#111', fill:null, lineWidth:1.5}});
ln(890, 2355, 1585, 2355, 1.5, '#111');
gfx.push({type:'polyline', silent:true, z:50, shape:{points:[[1572,2347],[1585,2355],[1572,2363]]}, style:{stroke:'#111', fill:null, lineWidth:1.5}});
txt(1246, 2371, 'Cluster/sub-clusters', 14.5);

bracket(2333, [936, 1062], '#111', 1.5);
txt(999, 2346, '2TN', 16);
bracket(2332, [1234.6, 1333.5], '#111', 1.5);
bracket(2332, [1333.5, 1404.5], '#111', 1.5);
txt(1285, 2344, '1ER', 16);
txt(1369, 2344, '2ER', 16);
bracket(2332, [1468, 1544], '#111', 1.5);
txt(1506, 2344, '1HR', 16);

var chart = echarts.init(document.getElementById('main'), null, {renderer:'canvas'});
chart.setOption({
	animation:false,
	backgroundColor:'#fff',
	textStyle:{fontFamily:FONT},
	grid:grids,
	xAxis:xAxes,
	yAxis:yAxes,
	visualMap:{show:false, type:'continuous', min:0, max:10, seriesIndex:heatIdx, dimension:2, inRange:{color:palette}},
	legend:{left:891, top:2361, itemWidth:13, itemHeight:13, itemGap:5, icon:'rect', data:['Alive','Deceased'], selectedMode:false, textStyle:{fontSize:13, fontFamily:FONT, color:'#111', padding:[0,0,0,-3]}},
	series:series,
	graphic:gfx
});
</script>
</body>
</html>
